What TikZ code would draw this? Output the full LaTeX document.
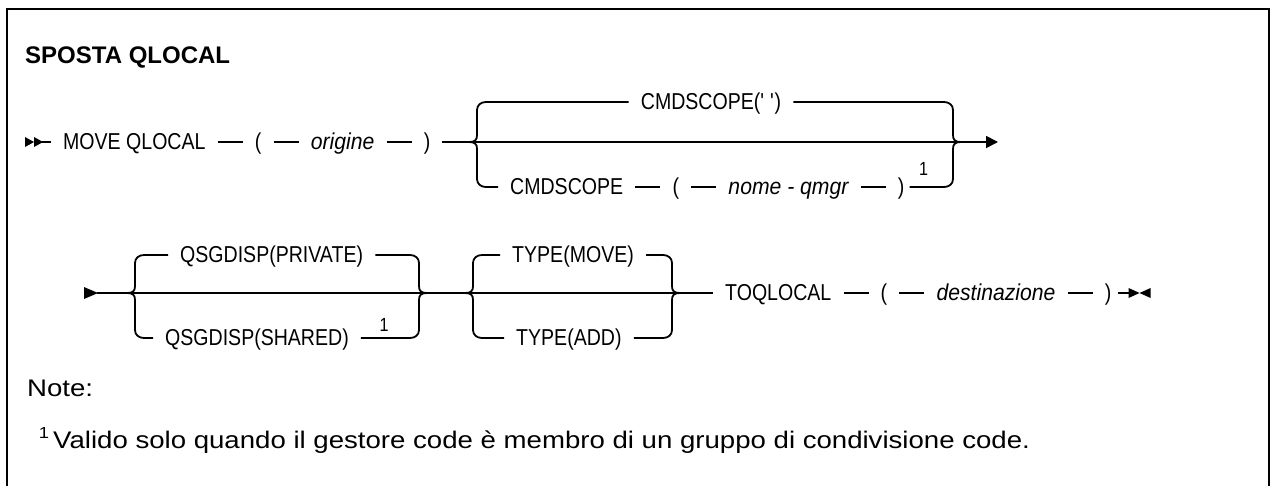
\documentclass[tikz,border=0pt]{standalone}
\usepackage{fontspec}
\setmainfont{Liberation Sans}
\newfontfamily\notefont[FakeStretch=1.15]{Liberation Sans}
\newfontfamily\dgfont[FakeStretch=0.85]{Liberation Sans}
\newfontfamily\dgitfont[FakeStretch=0.92]{Liberation Sans Italic}
\usetikzlibrary{arrows.meta,positioning}
\begin{document}
\begin{tikzpicture}[x=1pt,y=-1pt,
  node distance=25pt,
  ln/.style={line width=1.8pt},
  dg/.style={font=\dgfont\fontsize{23pt}{27pt}\selectfont, text height=15.8pt, text depth=0pt, inner ysep=0pt, inner xsep=12pt},
  tok/.style={dg, anchor=west, xshift=-12pt},
  par/.style={dg, anchor=center},
  ctok/.style={dg, anchor=center},
  it/.style={font=\dgitfont\fontsize{23pt}{27pt}\selectfont},
  sup/.style={font=\dgfont\fontsize{19pt}{22pt}\selectfont, inner sep=0pt, anchor=base},
  notes/.style={font=\notefont\fontsize{24pt}{28pt}\selectfont, inner sep=0pt, anchor=base west},
  endtip/.style={-{Triangle[length=12pt,width=12pt]}}
]
\useasboundingbox (0,0) rectangle (1274,485);
\fill[white] (0,0) rectangle (1274,485);
\draw[line width=2.2pt] (7,490) -- (7,9) -- (1269,9) -- (1269,490);

\node[font=\fontsize{24pt}{28pt}\selectfont\bfseries, anchor=base west, inner sep=0pt] (title) at (25,63) {SPOSTA QLOCAL};

% ---------- row 1 ----------
\fill (25,137) -- (34,142) -- (25,147) -- cycle;
\fill (34,137) -- (43,142) -- (34,147) -- cycle;
\coordinate (s1e) at (34,142);
\node[tok] (move) at (63,142) {MOVE QLOCAL};
\node[dg, right=of move] (lp1) {(};
\node[dg, it, right=of lp1] (orig) {origine};
\node[dg, right=of orig] (rp1) {)};
\coordinate (f1) at (469,142);
\coordinate (j1) at (961,142);
\coordinate (e1) at (998,142);
\draw[ln] (s1e) -- (move.west);
\draw[ln] (move.east) -- (lp1.west);
\draw[ln] (lp1.east) -- (orig.west);
\draw[ln] (orig.east) -- (rp1.west);
\draw[ln] (rp1.east) -- (f1) -- (j1);
\draw[ln,endtip] (j1) -- (e1);

\node[ctok] (cq) at (711,102) {CMDSCOPE(\textquotesingle\ \textquotesingle)};
\draw[ln] (f1) .. controls +(6,0) and +(0,5) .. (477,135) -- (477,110) .. controls +(0,-5) and +(-5,0) .. (486,102) -- (cq.west);
\draw[ln] (cq.east) -- (944,102) .. controls +(5,0) and +(0,-5) .. (953,110) -- (953,135) .. controls +(0,5) and +(-6,0) .. (j1);

\node[tok] (cmd) at (510,187) {CMDSCOPE};
\node[dg, right=of cmd] (lp2) {(};
\node[dg, it, right=of lp2] (qm) {nome - qmgr};
\node[dg, right=of qm] (rp2) {)};
\node[sup] (n1) at ([xshift=7pt,yshift=12pt]rp2.east) {1};
\draw[ln] (f1) .. controls +(6,0) and +(0,-5) .. (477,149) -- (477,179) .. controls +(0,5) and +(-5,0) .. (486,187) -- (cmd.west);
\draw[ln] (cmd.east) -- (lp2.west);
\draw[ln] (lp2.east) -- (qm.west);
\draw[ln] (qm.east) -- (rp2.west);
\draw[ln] ([xshift=-7pt]rp2.east) -- (944,187) .. controls +(5,0) and +(0,5) .. (953,179) -- (953,149) .. controls +(0,-5) and +(-6,0) .. (j1);

% ---------- row 2 ----------
\fill (84,287) -- (98,293) -- (84,299) -- cycle;
\coordinate (s2e) at (97,293);
\coordinate (fA) at (127,293);
\coordinate (jA) at (427,293);
\coordinate (fB) at (465,293);
\coordinate (jB) at (680,293);
\draw[ln] (s2e) -- (fA) -- (jA) -- (fB) -- (jB);

\node[tok] (qp) at (180,255) {QSGDISP(PRIVATE)};
\node[tok] (qs) at (165,338) {QSGDISP(SHARED)};
\node[sup] (n2) at (384,331) {1};
\draw[ln] (fA) .. controls +(6,0) and +(0,5) .. (135,286) -- (135,263) .. controls +(0,-5) and +(-5,0) .. (144,255) -- (qp.west);
\draw[ln] (qp.east) -- (410,255) .. controls +(5,0) and +(0,-5) .. (419,263) -- (419,286) .. controls +(0,5) and +(-6,0) .. (jA);
\draw[ln] (fA) .. controls +(6,0) and +(0,-5) .. (135,300) -- (135,330) .. controls +(0,5) and +(-5,0) .. (144,338) -- (qs.west);
\draw[ln] (qs.east) -- (410,338) .. controls +(5,0) and +(0,5) .. (419,330) -- (419,300) .. controls +(0,-5) and +(-6,0) .. (jA);

\node[tok] (tm) at (512,255) {TYPE(MOVE)};
\node[tok] (ta) at (516,338) {TYPE(ADD)};
\draw[ln] (fB) .. controls +(6,0) and +(0,5) .. (473,286) -- (473,263) .. controls +(0,-5) and +(-5,0) .. (482,255) -- (tm.west);
\draw[ln] (tm.east) -- (663,255) .. controls +(5,0) and +(0,-5) .. (672,263) -- (672,286) .. controls +(0,5) and +(-6,0) .. (jB);
\draw[ln] (fB) .. controls +(6,0) and +(0,-5) .. (473,300) -- (473,330) .. controls +(0,5) and +(-5,0) .. (482,338) -- (ta.west);
\draw[ln] (ta.east) -- (663,338) .. controls +(5,0) and +(0,5) .. (672,330) -- (672,300) .. controls +(0,-5) and +(-6,0) .. (jB);

\node[tok] (toq) at (725,293) {TOQLOCAL};
\node[dg, right=of toq] (lp3) {(};
\node[dg, it, right=of lp3] (dst) {destinazione};
\node[dg, right=of dst] (rp3) {)};
\coordinate (em) at ([xshift=7pt]rp3.east);
\draw[ln] (jB) -- (toq.west);
\draw[ln] (toq.east) -- (lp3.west);
\draw[ln] (lp3.east) -- (dst.west);
\draw[ln] (dst.east) -- (rp3.west);
\draw[ln] ([xshift=-6pt]rp3.east) -- (em);
\begin{scope}[shift={(em)}]
  \fill (-2,-5) -- (9,0) -- (-2,5) -- cycle;
  \fill (20,-5) -- (9,0) -- (20,5) -- cycle;
\end{scope}

% ---------- notes ----------
\node[notes] (note) at (27,396) {Note:};
\node[sup, font=\notefont\fontsize{16pt}{18pt}\selectfont] (fn1) at (44,438) {1};
\node[notes] (fn) at (53,448) {Valido solo quando il gestore code è membro di un gruppo di condivisione code.};
\end{tikzpicture}
\end{document}
